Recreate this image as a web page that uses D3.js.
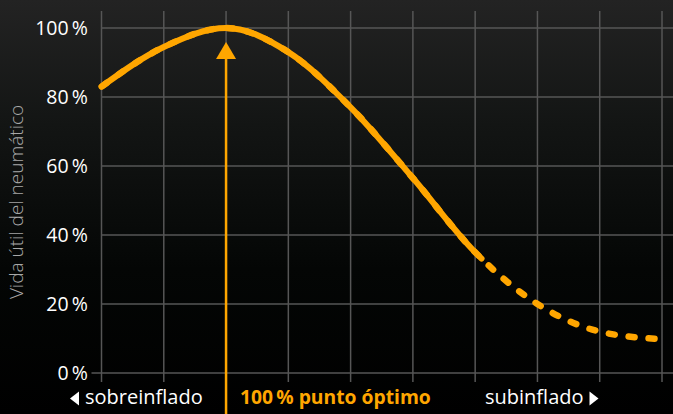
<!DOCTYPE html>
<html>
<head>
<meta charset="utf-8">
<script src="https://cdn.jsdelivr.net/npm/d3@7"></script>
<style>
  html, body { margin: 0; padding: 0; background: #000; }
  svg { display: block; }
  text { font-family: "Open Sans", "Noto Sans", sans-serif; }
</style>
</head>
<body>
<svg id="chart"></svg>
<script>
// Tyre life vs inflation pressure: one curve, solid then dashed

const WIDTH = 673, HEIGHT = 414;
const ORANGE = '#ffa600';

// data
const pressureSteps = [0, 1, 2, 3, 4, 5, 6, 7, 8, 9];       // grid columns (no labels)
const tyreLife = [83, 94.5, 100, 93, 77, 56.5, 35, 20, 12, 9.8]; // % of tyre life
const dashFrom = 6.1;          // curve is dashed after this step
const optimumStep = 2;         // 100 % optimum pressure
const yTicks = [0, 20, 40, 60, 80, 100];
const yTickLabels = ['0\u2009%', '20\u2009%', '40\u2009%', '60\u2009%', '80\u2009%', '100\u2009%'];
const axisTitle = 'Vida útil del neumático';
const leftLabel = 'sobreinflado';
const midLabel = '100\u2009% punto óptimo';
const rightLabel = 'subinflado';

const svg = d3.select('#chart')
  .attr('width', WIDTH)
  .attr('height', HEIGHT)
  .attr('viewBox', `0 0 ${WIDTH} ${HEIGHT}`);

// background gradient
const defs = svg.append('defs');
const grad = defs.append('linearGradient')
  .attr('id', 'bg')
  .attr('x1', 0).attr('y1', 0).attr('x2', 0).attr('y2', 1);
grad.append('stop').attr('offset', '0%').attr('stop-color', '#232323');
grad.append('stop').attr('offset', '30%').attr('stop-color', '#131514');
grad.append('stop').attr('offset', '65%').attr('stop-color', '#040605');
grad.append('stop').attr('offset', '100%').attr('stop-color', '#000');

svg.append('rect')
  .attr('width', WIDTH)
  .attr('height', HEIGHT)
  .attr('fill', 'url(#bg)');

const xScale = d3.scaleLinear().domain([0, 9]).range([101.5, 662]);
const yScale = d3.scaleLinear().domain([0, 100]).range([373, 28]);

// grid
const grid = svg.append('g').attr('stroke', '#565656').attr('stroke-width', 1.5);

grid.selectAll('line.v')
  .data(pressureSteps)
  .join('line')
  .attr('class', 'v')
  .attr('x1', d => xScale(d)).attr('x2', d => xScale(d))
  .attr('y1', 11).attr('y2', yScale(0) + 9);

grid.selectAll('line.h')
  .data(yTicks)
  .join('line')
  .attr('class', 'h')
  .attr('x1', d => d === 0 ? xScale(0) - 10 : xScale(0))
  .attr('x2', WIDTH)
  .attr('y1', d => yScale(d)).attr('y2', d => yScale(d));

// y tick labels
svg.append('g')
  .selectAll('text')
  .data(yTicks)
  .join('text')
  .attr('x', 88)
  .attr('y', d => yScale(d))
  .attr('dy', '0.35em')
  .attr('text-anchor', 'end')
  .attr('fill', '#fff')
  .attr('font-size', 19.5)
  .text((d, i) => yTickLabels[i]);

// y axis title
svg.append('text')
  .attr('transform', `translate(23,202) rotate(-90)`)
  .attr('text-anchor', 'middle')
  .attr('fill', '#a8a8a8')
  .attr('font-size', 19)
  .attr('font-weight', 300)
  .text(axisTitle);

// optimum arrow
const ox = xScale(optimumStep);
svg.append('line')
  .attr('x1', ox).attr('x2', ox)
  .attr('y1', 55).attr('y2', HEIGHT)
  .attr('stroke', ORANGE)
  .attr('stroke-width', 2.5);
svg.append('path')
  .attr('d', `M${ox},42L${ox + 10},59L${ox - 10},59Z`)
  .attr('fill', ORANGE);

// curve
const pts = pressureSteps.map((s, i) => [s, tyreLife[i]]);
const line = d3.line()
  .x(d => xScale(d[0]))
  .y(d => yScale(d[1]))
  .curve(d3.curveMonotoneX);

const dashed = svg.append('path')
  .attr('d', line(pts))
  .attr('fill', 'none')
  .attr('stroke', ORANGE)
  .attr('stroke-width', 6.5)
  .attr('stroke-linecap', 'round');

const solid = svg.append('path')
  .attr('d', line(pts))
  .attr('fill', 'none')
  .attr('stroke', ORANGE)
  .attr('stroke-width', 6)
  .attr('stroke-linecap', 'round');

// find length along path where the dashed part begins
const node = solid.node();
const total = node.getTotalLength();
const xSplit = xScale(dashFrom);
let lo = 0, hi = total;
for (let k = 0; k < 30; k++) {
  const mid = (lo + hi) / 2;
  if (node.getPointAtLength(mid).x < xSplit) lo = mid; else hi = mid;
}
const L0 = lo;
solid.attr('stroke-dasharray', `${L0},${total + 10}`);
dashed
  .attr('stroke-dasharray', '6,14')
  .attr('stroke-dashoffset', -(L0 + 10));

// bottom labels
const labelY = 404;
svg.append('text')
  .attr('x', 85).attr('y', labelY)
  .attr('fill', '#fff')
  .attr('font-size', 20)
  .text(leftLabel);

svg.append('text')
  .attr('x', 240).attr('y', labelY)
  .attr('fill', ORANGE)
  .attr('font-size', 19.3)
  .attr('font-weight', 700)
  .text(midLabel);

const rightT = svg.append('text')
  .attr('x', 485).attr('y', labelY)
  .attr('fill', '#fff')
  .attr('font-size', 20)
  .text(rightLabel);

// small triangles next to the side labels
const triY = labelY - 5.5;
svg.append('path')
  .attr('d', `M70,${triY}L79,${triY - 7}L79,${triY + 7}Z`)
  .attr('fill', '#fff');
const rEnd = 485 + rightT.node().getComputedTextLength() + 6;
svg.append('path')
  .attr('d', `M${rEnd + 9},${triY}L${rEnd},${triY - 7}L${rEnd},${triY + 7}Z`)
  .attr('fill', '#fff');
</script>
</body>
</html>
